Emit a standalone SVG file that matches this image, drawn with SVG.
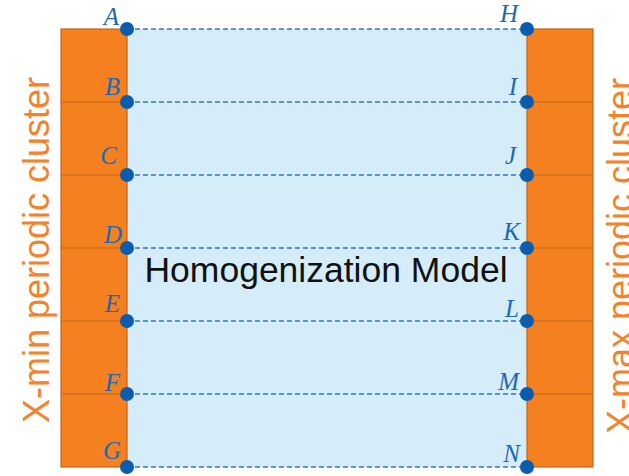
<svg xmlns="http://www.w3.org/2000/svg" width="629" height="476" viewBox="0 0 629 476">
<style>
.cl{fill:#f4801f;stroke:#c2651c;stroke-width:1.2}
.dv{stroke:#c2651c;stroke-width:1.2}
.dot{fill:#0b5cad}
.lb{font-family:"Liberation Serif",serif;font-style:italic;font-size:25px;fill:#1f68b4}
.lbl{text-anchor:end}
.cx{stroke:#2d77c6;stroke-width:1.4;stroke-dasharray:5 3;fill:none}
.side{font-family:"Liberation Sans",Arial,sans-serif;font-size:36px;fill:#f4822a;text-anchor:middle}
.title{font-family:"Liberation Sans",Arial,sans-serif;font-size:35.5px;fill:#111;text-anchor:middle}
</style>
<rect width="629" height="476" fill="#fff"/>
<g id="model">
<rect x="127" y="29" width="400" height="438" fill="#d5edf9"/>
<text class="title" x="326" y="282">Homogenization Model</text>
</g>
<g id="xmin-cluster">
<rect class="cl" x="61" y="29" width="66" height="438"/>
<line class="dv" x1="61" y1="102" x2="127" y2="102"/>
<line class="dv" x1="61" y1="175" x2="127" y2="175"/>
<line class="dv" x1="61" y1="248" x2="127" y2="248"/>
<line class="dv" x1="61" y1="321" x2="127" y2="321"/>
<line class="dv" x1="61" y1="394" x2="127" y2="394"/>
<text class="side" transform="translate(49,250) rotate(-90)">X-min periodic cluster</text>
</g>
<g id="xmax-cluster">
<rect class="cl" x="527" y="29" width="66" height="438"/>
<line class="dv" x1="527" y1="102" x2="593" y2="102"/>
<line class="dv" x1="527" y1="175" x2="593" y2="175"/>
<line class="dv" x1="527" y1="248" x2="593" y2="248"/>
<line class="dv" x1="527" y1="321" x2="593" y2="321"/>
<line class="dv" x1="527" y1="394" x2="593" y2="394"/>
<text class="side" transform="translate(633,256) rotate(-90)">X-max periodic cluster</text>
</g>
<g id="connectors">
<line class="cx" x1="127" y1="29" x2="527" y2="29"/>
<line class="cx" x1="127" y1="102" x2="527" y2="102"/>
<line class="cx" x1="127" y1="175" x2="527" y2="175"/>
<line class="cx" x1="127" y1="248" x2="527" y2="248"/>
<line class="cx" x1="127" y1="321" x2="527" y2="321"/>
<line class="cx" x1="127" y1="394" x2="527" y2="394"/>
<line class="cx" x1="127" y1="467" x2="527" y2="467"/>
</g>
<g id="A"><circle class="dot" cx="127" cy="29" r="7"/><text class="lb lbl" x="119" y="25">A</text></g>
<g id="B"><circle class="dot" cx="127" cy="102" r="7"/><text class="lb lbl" x="120" y="95">B</text></g>
<g id="C"><circle class="dot" cx="127" cy="175" r="7"/><text class="lb lbl" x="117" y="164">C</text></g>
<g id="D"><circle class="dot" cx="127" cy="248" r="7"/><text class="lb lbl" x="122" y="243">D</text></g>
<g id="E"><circle class="dot" cx="127" cy="321" r="7"/><text class="lb lbl" x="120" y="312">E</text></g>
<g id="F"><circle class="dot" cx="127" cy="394" r="7"/><text class="lb lbl" x="120" y="391">F</text></g>
<g id="G"><circle class="dot" cx="127" cy="467" r="7"/><text class="lb lbl" x="121" y="459">G</text></g>
<g id="H"><circle class="dot" cx="527" cy="29" r="7"/><text class="lb lbl" x="518" y="22">H</text></g>
<g id="I"><circle class="dot" cx="527" cy="102" r="7"/><text class="lb lbl" x="517" y="95">I</text></g>
<g id="J"><circle class="dot" cx="527" cy="175" r="7"/><text class="lb lbl" x="516" y="164">J</text></g>
<g id="K"><circle class="dot" cx="527" cy="248" r="7"/><text class="lb lbl" x="520" y="240">K</text></g>
<g id="L"><circle class="dot" cx="527" cy="321" r="7"/><text class="lb lbl" x="519" y="317">L</text></g>
<g id="M"><circle class="dot" cx="527" cy="394" r="7"/><text class="lb lbl" x="519" y="390">M</text></g>
<g id="N"><circle class="dot" cx="527" cy="467" r="7"/><text class="lb lbl" x="520" y="462">N</text></g>
</svg>
